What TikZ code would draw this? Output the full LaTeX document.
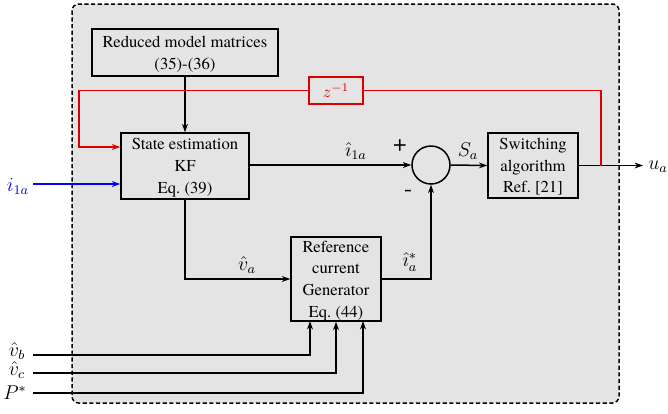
\documentclass[tikz,border=0pt]{standalone}
\usepackage{fontspec}
\setmainfont{TeX Gyre Termes}
\usetikzlibrary{arrows.meta}
\begin{document}
\begin{tikzpicture}[x=0.6pt,y=-0.6pt,
  blk/.style={draw,line width=0.9pt,align=center,inner sep=0pt,font=\rmfamily\normalsize,text depth=0pt},
  con/.style={line width=0.9pt,-{Stealth[length=5pt,width=3.5pt]}},
  redl/.style={con,red!85!black},
  lbl/.style={inner sep=0pt,font=\large}]
\useasboundingbox (0,0) rectangle (668,413);
\draw[dash pattern=on 2.5pt off 1.5pt,line width=0.9pt,fill=gray!21,rounded corners=4pt] (72,4) rectangle (619,403);
% blocks
\node[blk,minimum width=186*0.6pt,minimum height=47*0.6pt] (rm) at (185,52.5) {Reduced model matrices\\[1pt](35)-(36)};
\node[blk,minimum width=128*0.6pt,minimum height=66*0.6pt] (se) at (185,166) {State estimation\\[1pt]KF\\[1pt]Eq.~(39)};
\node[blk,draw=red!85!black,text=red!85!black,minimum width=54*0.6pt,minimum height=27*0.6pt] (z) at (336,90.5) {$z^{-1}$};
\node[draw,circle,line width=0.9pt,minimum size=38*0.6pt,inner sep=0pt] (sum) at (431,165) {};
\node[blk,minimum width=90*0.6pt,minimum height=65*0.6pt] (sw) at (533,165.5) {Switching\\[1pt]algorithm\\[1pt]Ref.~[21]};
\node[blk,minimum width=90*0.6pt,minimum height=84*0.6pt] (rc) at (336,279) {Reference\\[1pt]current\\[1pt]Generator\\[1pt]Eq.~(44)};
% coordinates
\coordinate (ina) at (33,184);
\coordinate (inb) at (33,355);
\coordinate (inc) at (33,373);
\coordinate (inp) at (33,393);
\coordinate (out) at (643,165.5);
\coordinate (tap) at (601,165.5);
% labels
\node[lbl,text=blue] (lia) at (18,186) {$i_{1a}$};
\node[lbl] (lvb) at (17,351) {$\hat v_b$};
\node[lbl] (lvc) at (17,370) {$\hat v_c$};
\node[lbl,font=\normalsize] (lp) at (15,392.5) {\large$P^{*}$};
\node[lbl] (lua) at (658,167) {$u_a$};
\node[lbl,font=\Large] (lplus) at (400,146) {+};
\node[lbl,font=\Large] (lminus) at (408,193) {-};
\node[lbl] (lsa) at (468,151) {$S_a$};
\node[lbl] (li1a) at (356,151) {$\hat\imath_{1a}$};
\node[lbl] (lva) at (247,265) {$\hat v_a$};
\node[lbl] (lias) at (410,262) {$\hat\imath_a^{*}$};
% connectors
\draw[con] (rm.south) -- (se.north);
\draw[con,blue] (ina) -- (ina -| se.west);
\draw[con] (se.east |- sum.west) -- (sum.west);
\draw[con] (sum.east) -- (sw.west);
\draw[con] (sw.east) -- (out);
\draw[redl,-] (tap) -- (tap |- z.east) -- (z.east);
\draw[redl] (z.west) -- (79,90.5) -- (79,147) -- (se.west |- 0,147);
\draw[con] (se.south) -- (se.south |- rc.west) -- (rc.west);
\draw[con] (rc.east) -- (sum.south |- rc.east) -- (sum.south);
\draw[con] (inb) -- (310,355) -- (310,321);
\draw[con] (inc) -- (336,373) -- (rc.south);
\draw[con] (inp) -- (363,393) -- (363,321);
\end{tikzpicture}
\end{document}
